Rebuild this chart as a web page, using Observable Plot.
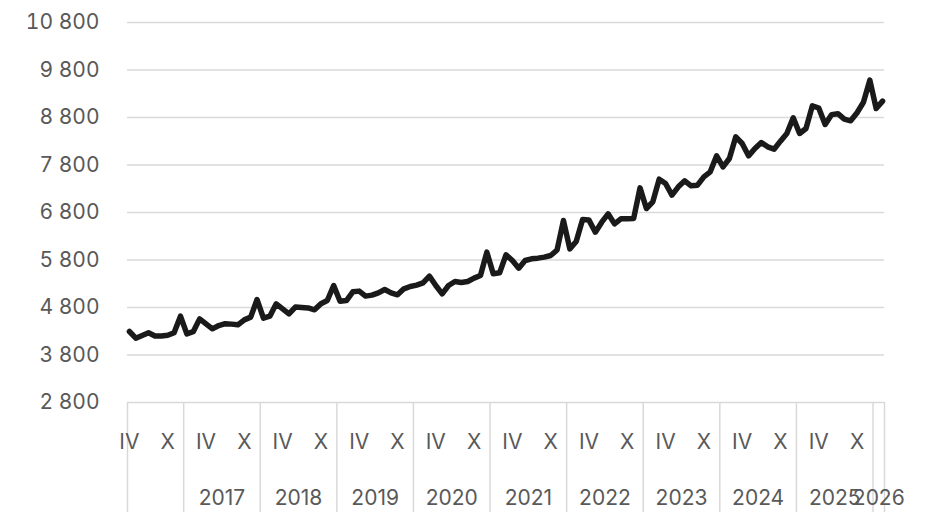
<!DOCTYPE html>
<html><head><meta charset="utf-8">
<script src="https://cdn.jsdelivr.net/npm/d3@7"></script>
<script src="https://cdn.jsdelivr.net/npm/@observablehq/plot@0.6"></script>
<style>html,body{margin:0;padding:0;background:#fff}</style>
</head><body><div id="chart"></div>
<script>
// Series: monthly values from April 2016 to February 2026
const startYear = 2016;
const startMonth = 4;
const values2016 = [4295, 4154, 4210, 4267, 4200, 4200, 4215, 4270, 4618];
const values2017 = [4246, 4290, 4561, 4456, 4351, 4420, 4460, 4450, 4435, 4540, 4597, 4968];
const values2018 = [4575, 4618, 4877, 4772, 4667, 4810, 4800, 4790, 4751, 4880, 4947, 5263];
const values2019 = [4933, 4945, 5130, 5145, 5040, 5060, 5109, 5179, 5109, 5067, 5193, 5242];
const values2020 = [5270, 5319, 5460, 5263, 5088, 5263, 5347, 5326, 5347, 5418, 5474, 5965];
const values2021 = [5509, 5530, 5909, 5789, 5628, 5789, 5825, 5839, 5860, 5895, 6010, 6632];
const values2022 = [6035, 6189, 6653, 6640, 6386, 6596, 6772, 6561, 6667, 6667, 6674, 7319];
const values2023 = [6884, 7025, 7502, 7411, 7165, 7340, 7467, 7361, 7375, 7551, 7656, 7993];
const values2024 = [7761, 7937, 8393, 8253, 7993, 8147, 8274, 8182, 8133, 8302, 8463, 8793];
const values2025 = [8463, 8568, 9046, 9000, 8653, 8860, 8880, 8765, 8730, 8900, 9120, 9586];
const values2026 = [8989, 9144];

const romanMonths = ["I","II","III","IV","V","VI","VII","VIII","IX","X","XI","XII"];
const labelledMonths = [4, 10];
const unlabelledYears = [2016];
const yTicks = [2800, 3800, 4800, 5800, 6800, 7800, 8800, 9800, 10800];

const values = [].concat(values2016, values2017, values2018, values2019, values2020,
  values2021, values2022, values2023, values2024, values2025, values2026);

const data = values.map((v, i) => {
  const m0 = startMonth - 1 + i;
  return {i, year: startYear + Math.floor(m0 / 12), month: (m0 % 12) + 1, v};
});
const last = data.length - 1;
const pad = 0.3;
const domainX = [-pad, last + pad];

const monthLabels = data.filter(d => labelledMonths.includes(d.month))
  .map(d => ({i: d.i, label: romanMonths[d.month - 1]}));

const groups = d3.groups(data, d => d.year).map(([year, ds], k, arr) => {
  const start = k === 0 ? domainX[0] : ds[0].i - 0.5;
  const end = k === arr.length - 1 ? domainX[1] : ds[ds.length - 1].i + 0.5;
  return {year, start, end, center: (start + end) / 2};
});
const boundaries = [domainX[0], ...groups.slice(1).map(g => g.start), domainX[1]];
const yearLabels = groups.filter(g => !unlabelledYears.includes(g.year));

const fmt = v => d3.format(",")(v).replace(/,/g, "\u00a0");
const font = "Inter, 'Noto Sans', sans-serif";
const textColor = "#595959";
const gridColor = "#d9d9d9";

const chart = Plot.plot({
  width: 931,
  height: 512,
  marginLeft: 127,
  marginRight: 47,
  marginTop: 22,
  marginBottom: 110,
  style: {fontFamily: font, color: textColor, background: "#fff"},
  x: {domain: domainX, axis: null},
  y: {domain: [2800, 10800], axis: null},
  marks: [
    Plot.gridY(yTicks, {stroke: gridColor, strokeOpacity: 1, strokeWidth: 1.5}),
    Plot.axisY(yTicks, {tickSize: 0, tickPadding: 28, tickFormat: fmt, fontSize: 21, fill: textColor, label: null}),
    Plot.axisX(boundaries, {tickSize: 110, tickFormat: () => "", stroke: gridColor, strokeOpacity: 1, strokeWidth: 1.5, label: null}),
    Plot.text(monthLabels, {x: "i", text: "label", frameAnchor: "bottom", dy: 40, lineAnchor: "middle", fontSize: 21, fill: textColor}),
    Plot.text(yearLabels, {x: "center", text: d => String(d.year), frameAnchor: "bottom", dy: 96, lineAnchor: "middle", fontSize: 21, fill: textColor}),
    Plot.line(data, {x: "i", y: "v", stroke: "#1a1a1a", strokeWidth: 5.5, strokeLinejoin: "round", strokeLinecap: "round"})
  ]
});
document.getElementById("chart").append(chart);
</script>
</body></html>
